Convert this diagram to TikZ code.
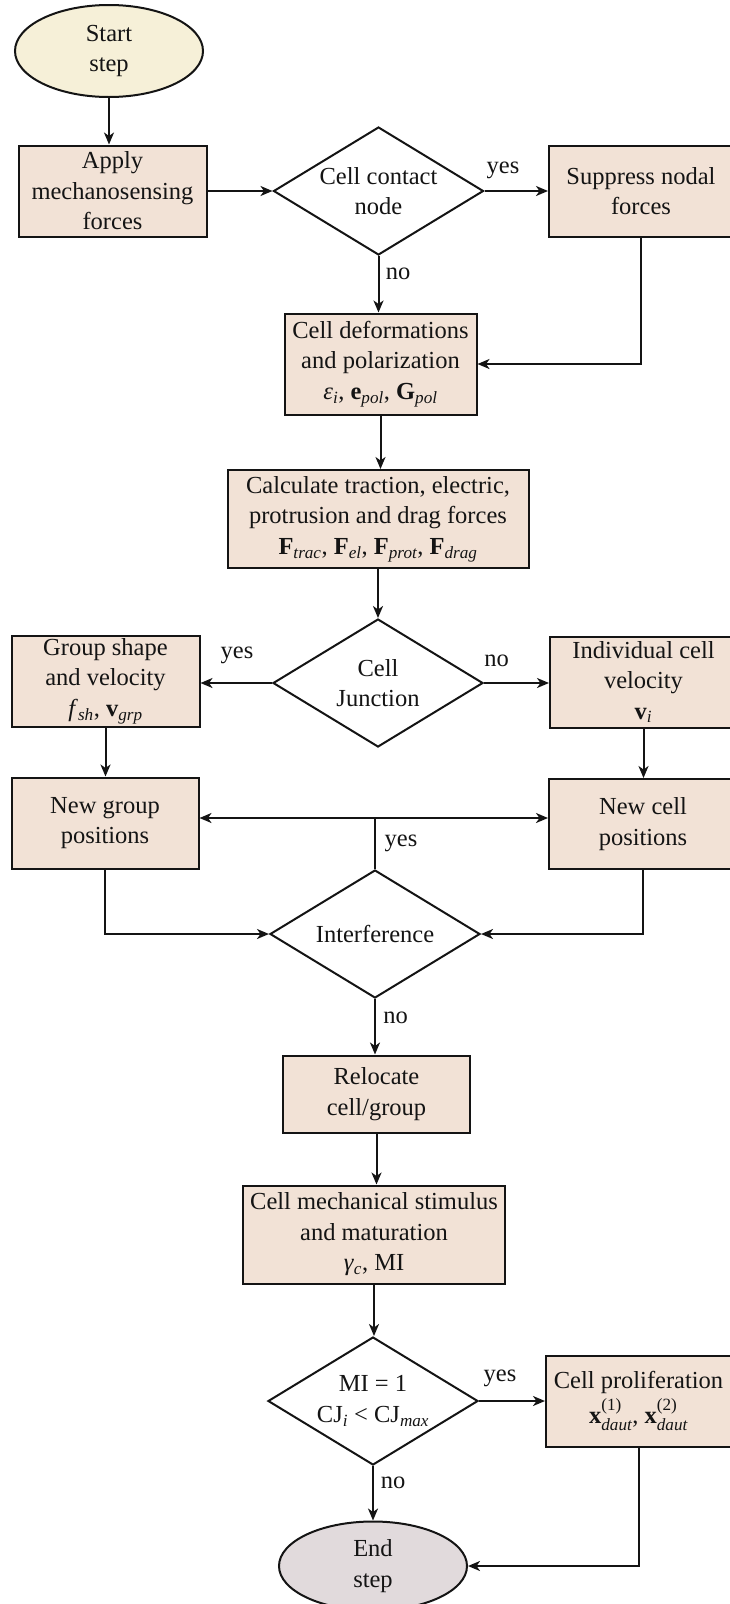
\documentclass[tikz,border=0pt]{standalone}
\usepackage{amsmath}
\usepackage{fontspec}
\setmainfont{Liberation Serif}
\usepackage{tikz}
\usetikzlibrary{arrows.meta,positioning,shapes.geometric}
\definecolor{ink}{RGB}{20,20,20}
\definecolor{boxfill}{RGB}{242,226,214}
\definecolor{startfill}{RGB}{246,240,216}
\definecolor{endfill}{RGB}{225,218,220}
\newcommand{\subit}[1]{\ensuremath{_{\textit{#1}}}}
\tikzset{
  every picture/.style={color=ink, line width=2pt, font=\fontsize{24.5}{30.5}\selectfont},
  box/.style={draw=ink, fill=boxfill, align=center, inner sep=2pt},
  cond/.style={diamond, draw=ink, fill=white, aspect=1.65, inner sep=1pt, align=center, minimum width=210pt, minimum height=128pt},
  term/.style={ellipse, draw=ink, align=center, inner sep=0pt},
  flow/.style={-{Stealth[length=12pt,width=10pt,inset=3.5pt]}},
  lbl/.style={inner sep=1pt},
}

\begin{document}
\begin{tikzpicture}[x=1pt, y=-1pt]
  % One step of the loop, top to bottom. Coordinates follow the page
  % (y runs downwards); the right column is cut by the page edge.
  \useasboundingbox (0,0) rectangle (729,1604);
  \node[term, fill=startfill, minimum width=188pt, minimum height=92pt] (start) at (109,51) {Start\\step};
  \node[box, minimum width=188pt, minimum height=91pt] (apply)    at (112.5,191) {Apply\\mechanosensing\\forces};
  \node[cond] (contact) at (378.5,191) {Cell contact\\node};
  \node[box, minimum width=184pt, minimum height=91pt] (suppress) at (641,191) {Suppress nodal\\forces};
  \node[box, minimum width=192pt, minimum height=101pt] (deform)  at (380.5,364) {Cell deformations\\and polarization\\\textit{ε}\subit{i}, \textbf{e}\subit{pol}, \textbf{G}\subit{pol}};
  \node[box, minimum width=301pt, minimum height=98pt] (calc)     at (378,519) {Calculate traction, electric,\\protrusion and drag forces\\\textbf{F}\subit{trac}, \textbf{F}\subit{el}, \textbf{F}\subit{prot}, \textbf{F}\subit{drag}};
  \node[cond] (junction) at (378,683) {Cell\\Junction};
  \node[box, minimum width=188pt, minimum height=91pt] (group)    at (105.5,681) {Group shape\\and velocity\\\textit{f}\subit{sh}, \textbf{v}\subit{grp}};
  \node[box, minimum width=187pt, minimum height=91pt] (indiv)    at (643.5,682) {Individual cell\\velocity\\\textbf{v}\subit{i}};
  \node[box, minimum width=187pt, minimum height=91pt] (newgroup) at (105,823) {New group\\positions};
  \node[box, minimum width=188pt, minimum height=90pt] (newcell)  at (643,824) {New cell\\positions};
  \node[cond] (interf) at (375,934) {Interference};
  \coordinate (split) at (375,818);
  \node[box, minimum width=187pt, minimum height=77pt] (relocate) at (376.5,1094) {Relocate\\cell/group};
  \node[box, minimum width=262pt, minimum height=98pt] (mech)     at (374,1234.5) {Cell mechanical stimulus\\and maturation\\\textit{γ}\subit{c}, MI};
  \node[cond] (decide) at (373,1401) {MI = 1\\CJ\subit{i} < CJ\subit{max}};
  \node[box, minimum width=185pt, minimum height=91pt] (prolif)   at (638.5,1401) {Cell proliferation\\[4pt]\textbf{x}\ensuremath{^{\text{(1)}}_{\textit{daut}}}, \textbf{x}\ensuremath{^{\text{(2)}}_{\textit{daut}}}};
  \node[term, fill=endfill, minimum width=188pt, minimum height=89pt] (end) at (373,1566) {End\\step};
  % connectors
  \draw[flow] (start) -- (start |- apply.north);
  \draw[flow] (apply) -- (contact);
  \draw[flow] (contact) -- (suppress);
  \draw[flow] (contact) -- (contact |- deform.north);
  \draw[flow] (suppress) |- (deform);
  \draw[flow] (deform) -- (deform |- calc.north);
  \draw[flow] (calc) -- (junction);
  \draw[flow] (junction.west) -- (junction.west -| group.east);
  \draw[flow] (junction.east) -- (junction.east -| indiv.west);
  \draw[flow] (group) -- (group |- newgroup.north);
  \draw[flow] (indiv) -- (indiv |- newcell.north);
  \draw (interf) -- (split);
  \draw[flow] (split) -- (split -| newgroup.east);
  \draw[flow] (split) -- (split -| newcell.west);
  \draw[flow] (newgroup) |- (interf);
  \draw[flow] (newcell) |- (interf);
  \draw[flow] (interf) -- (interf |- relocate.north);
  \draw[flow] (relocate) -- (relocate |- mech.north);
  \draw[flow] (mech) -- (mech |- decide.north);
  \draw[flow] (decide) -- (prolif);
  \draw[flow] (decide) -- (decide |- end.north);
  \draw[flow] (prolif) |- (end);
  % yes / no
  \node[lbl] (yes1) at (503,170) {yes};
  \node[lbl] (no1)  at (398,274) {no};
  \node[lbl] (yes2) at (237,655) {yes};
  \node[lbl] (no2)  at (496.5,661) {no};
  \node[lbl] (yes3) at (401,843) {yes};
  \node[lbl] (no3)  at (395.5,1018) {no};
  \node[lbl] (yes4) at (500,1378) {yes};
  \node[lbl] (no4)  at (393,1483) {no};
\end{tikzpicture}
\end{document}
